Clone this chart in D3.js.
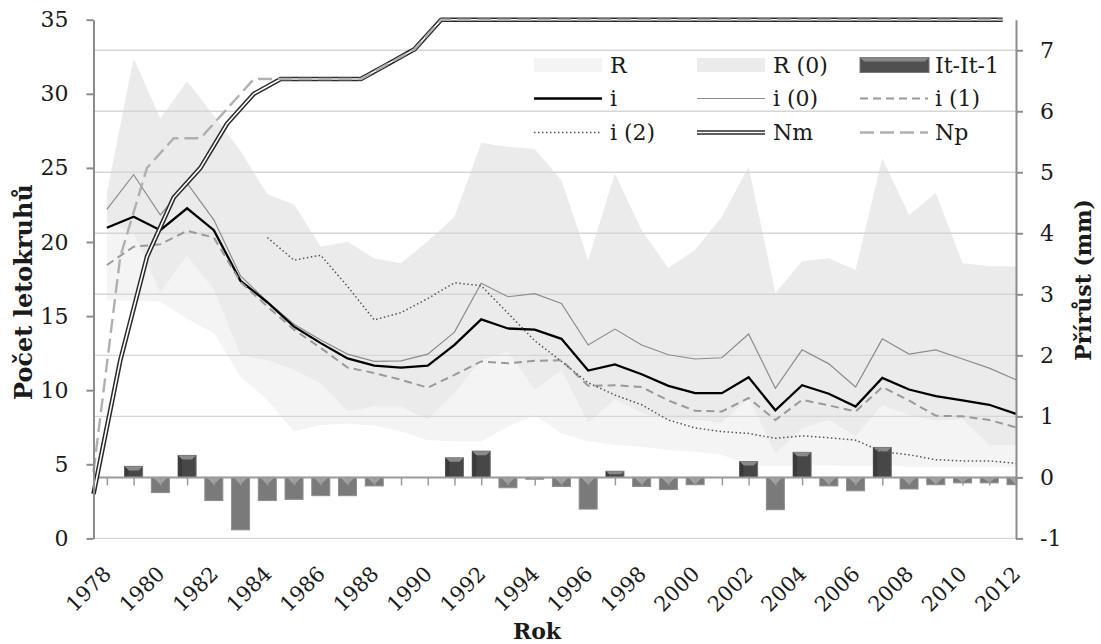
<!DOCTYPE html>
<html><head><meta charset="utf-8">
<script src="https://cdn.jsdelivr.net/npm/d3@7"></script>
<style>
body{margin:0;background:#fff}
svg{font-family:"DejaVu Serif",serif}
</style></head><body>
<svg id="c" width="1101" height="644"></svg>
<script>
// ---- data ----
const years=[1978,1979,1980,1981,1982,1983,1984,1985,1986,1987,1988,1989,1990,1991,1992,1993,1994,1995,1996,1997,1998,1999,2000,2001,2002,2003,2004,2005,2006,2007,2008,2009,2010,2011,2012];
const xTickLabels=["1978","1980","1982","1984","1986","1988","1990","1992","1994","1996","1998","2000","2002","2004","2006","2008","2010","2012"];
const leftTicks=[0,5,10,15,20,25,30,35];
const rightTicks=[-1,0,1,2,3,4,5,6,7];
const legendLabels=["R","R (0)","It-It-1","i","i (0)","i (1)","i (2)","Nm","Np"];

// R range (mm)
const rLow =[2.9,2.9,2.88,2.6,2.36,1.65,1.27,0.75,0.86,0.88,0.85,0.75,0.61,0.59,0.59,0.83,1.02,0.72,0.59,0.53,0.50,0.45,0.42,0.37,0.20,0.18,0.20,0.20,0.18,0.20,0.17,0.17,0.17,0.17,0.17];
const rHigh=[4.19,4.00,3.02,3.63,3.07,2.00,1.92,1.76,1.54,1.08,1.16,1.16,0.94,1.38,1.92,2.06,1.43,1.75,0.89,1.28,1.05,0.94,0.94,0.89,1.30,0.39,0.80,0.94,0.67,1.18,1.02,0.93,0.95,0.53,0.53];
// R (0) range (mm)
const r0Low =[4.19,4.00,3.02,3.63,3.07,2.00,1.92,1.76,1.54,1.08,1.16,1.16,0.94,1.38,1.92,2.06,1.43,1.75,0.89,1.28,1.05,0.94,0.94,0.89,1.30,0.39,0.80,0.94,0.67,1.18,1.02,0.93,0.95,0.53,0.53];
const r0High=[4.66,6.87,5.88,6.49,5.93,5.35,4.64,4.47,3.78,3.86,3.59,3.51,3.87,4.27,5.48,5.42,5.38,4.87,3.56,4.98,4.05,3.43,3.73,4.27,5.09,3.02,3.54,3.59,3.40,5.23,4.30,4.66,3.51,3.46,3.46];
// It - It-1 (mm)
const itDiff=[null,0.18,-0.25,0.36,-0.38,-0.86,-0.38,-0.36,-0.30,-0.30,-0.14,0,0,0.32,0.43,-0.17,-0.03,-0.15,-0.52,0.10,-0.15,-0.20,-0.12,0,0.26,-0.53,0.41,-0.14,-0.22,0.49,-0.19,-0.12,-0.09,-0.09,-0.12];
// increments (mm)
const iVals =[4.09,4.27,4.05,4.41,4.05,3.22,2.87,2.47,2.20,1.95,1.83,1.80,1.83,2.17,2.59,2.44,2.42,2.27,1.75,1.85,1.69,1.50,1.38,1.38,1.64,1.10,1.51,1.37,1.16,1.63,1.44,1.33,1.26,1.19,1.04];
const i0Vals=[4.39,4.96,4.30,4.82,4.22,3.30,2.88,2.51,2.25,2.02,1.90,1.91,2.02,2.38,3.18,2.96,3.01,2.85,2.17,2.43,2.17,2.01,1.94,1.96,2.35,1.46,2.09,1.86,1.48,2.27,2.02,2.09,1.94,1.79,1.60];
const i1Vals=[3.48,3.78,3.82,4.04,3.93,3.20,2.80,2.42,2.12,1.80,1.71,1.60,1.47,1.68,1.90,1.87,1.91,1.92,1.50,1.51,1.48,1.26,1.09,1.08,1.30,0.94,1.27,1.18,1.08,1.48,1.26,1.01,1.00,0.94,0.82];
const i2Vals=[null,null,null,null,null,null,3.93,3.56,3.64,3.13,2.58,2.70,2.93,3.19,3.14,2.69,2.24,1.90,1.55,1.35,1.19,0.94,0.81,0.75,0.72,0.64,0.68,0.65,0.61,0.42,0.37,0.29,0.27,0.27,0.23];
// counts (left axis)
const nmVals=[3,12,19,23,25,28,30,31,31,31,31,32,33,35,35,35,35,35,35,35,35,35,35,35,35,35,35,35,35,35,35,35,35,35,35];
const npVals=[4.5,19,25,27,27,29,31,31,31,31,31,32,33,35,35,35,35,35,35,35,35,35,35,35,35,35,35,35,35,35,35,35,35,35,35];

// ---- layout ----
const svg=d3.select("#c");
const L=93.5,R=1016,T=19.7,B=538.4;
const n=years.length;
const x=d3.scaleLinear().domain([0,n-0.5]).range([L,R]);
const xp=i=>x(i);        // primary (count) series
const xs=i=>x(i+0.5);    // secondary (mm) series
const yL=d3.scaleLinear().domain([0,35]).range([B,T]);
const yR=d3.scaleLinear().domain([-1,7.5]).range([B,T]);
const catScale=d3.scalePoint().domain(years).range([xs(0),xs(n-1)]);
const fmt=d=>(d<0?"-":"")+Math.abs(d);

svg.append("defs").append("clipPath").attr("id","plot")
  .append("rect").attr("x",L).attr("y",T-6).attr("width",R-L).attr("height",B-T+6);

// areas
const band=(lo,hi)=>d3.area().x((d,i)=>xs(i)).y0((d,i)=>yR(lo[i])).y1((d,i)=>yR(hi[i]));
svg.append("path").attr("d",band(rLow,rHigh)(years)).attr("fill","#f4f4f4");
svg.append("path").attr("d",band(r0Low,r0High)(years)).attr("fill","#ebebeb");

// gridlines (right axis)
svg.append("g").selectAll("line").data(rightTicks.filter(v=>v!==0)).join("line")
  .attr("x1",L).attr("x2",R).attr("y1",d=>yR(d)).attr("y2",d=>yR(d))
  .attr("stroke","#d6d6d6").attr("stroke-width",1.4);

// bars
const bw=18;
const bars=svg.append("g").attr("clip-path","url(#plot)");
itDiff.forEach((v,i)=>{
  if(v===null||v===0) return;
  const cx=xs(i), x0=cx-bw/2, x1=cx+bw/2;
  const yt=yR(Math.max(v,0)), yb=yR(Math.min(v,0)), h=yb-yt;
  if(v>0){
    bars.append("rect").attr("x",x0).attr("y",yt).attr("width",bw).attr("height",h)
      .attr("fill","#474747").attr("stroke","#6e6e6e").attr("stroke-width",1);
    const b=Math.min(4,h/2);
    bars.append("path").attr("d",`M${x0},${yt}L${x1},${yt}L${x1-b},${yt+b}L${x0+b},${yt+b}Z`).attr("fill","#8a8a8a");
    bars.append("path").attr("d",`M${x0},${yt}L${x0+b},${yt+b}L${x0+b},${yb}L${x0},${yb}Z`).attr("fill","#3a3a3a");
  } else {
    bars.append("rect").attr("x",x0).attr("y",yt).attr("width",bw).attr("height",h)
      .attr("fill","#7a7a7a").attr("stroke","#8e8e8e").attr("stroke-width",1);
    const b=Math.min(7,h);
    bars.append("path").attr("d",`M${x0+2},${yt}L${x1-2},${yt}L${cx},${yt+b}Z`).attr("fill","#a3a3a3");
  }
});

// category axis at 0 (secondary)
const zeroAxis=svg.append("g").attr("transform",`translate(0,${yR(0)})`)
  .call(d3.axisBottom(catScale).tickSize(8).tickSizeOuter(0).tickFormat(""));
zeroAxis.select(".domain").attr("d",`M${L},0H${R}`).attr("stroke","#9a9a9a").attr("stroke-width",2);
zeroAxis.selectAll(".tick line").attr("stroke","#9a9a9a").attr("stroke-width",1.5);

// year labels
const labelScale=d3.scalePoint().domain(xTickLabels).range([catScale(1978),catScale(2012)]);
const xLab=svg.append("g").attr("transform","translate(0,570)")
  .call(d3.axisBottom(labelScale).tickSize(0).tickPadding(0));
xLab.select(".domain").remove();
xLab.selectAll("text").attr("y",0).attr("x",0).attr("dy","0.35em")
  .attr("transform","rotate(-45)").attr("text-anchor","end")
  .style("font-size","21px").style("font-family","DejaVu Serif").attr("fill","#1a1a1a");

// lines
const lineR=arr=>d3.line().defined((d,i)=>arr[i]!==null).x((d,i)=>xs(i)).y((d,i)=>yR(arr[i]))(years);
const lineL=arr=>d3.line().x((d,i)=>xp(i)).y((d,i)=>yL(arr[i]))(years);
svg.append("path").attr("d",lineR(i0Vals)).attr("fill","none").attr("stroke","#8c8c8c").attr("stroke-width",1.2);
svg.append("path").attr("d",lineR(iVals)).attr("fill","none").attr("stroke","#000").attr("stroke-width",2.3);
svg.append("path").attr("d",lineR(i1Vals)).attr("fill","none").attr("stroke","#9a9a9a").attr("stroke-width",2).attr("stroke-dasharray","8,5");
svg.append("path").attr("d",lineR(i2Vals)).attr("fill","none").attr("stroke","#555").attr("stroke-width",1.5).attr("stroke-dasharray","1.5,2.5");
svg.append("path").attr("d",lineL(nmVals)).attr("fill","none").attr("stroke","#2a2a2a").attr("stroke-width",4.6).attr("stroke-linejoin","round");
svg.append("path").attr("d",lineL(nmVals)).attr("fill","none").attr("stroke","#fff").attr("stroke-width",1.6).attr("stroke-linejoin","round");
svg.append("path").attr("d",lineL(npVals)).attr("fill","none").attr("stroke","#b0b0b0").attr("stroke-width",2.4).attr("stroke-dasharray","14,6");

// left axis
const la=svg.append("g").attr("transform",`translate(${L},0)`)
  .call(d3.axisLeft(yL).tickValues(leftTicks).tickSize(7).tickSizeOuter(0).tickPadding(18).tickFormat(fmt));
la.select(".domain").attr("stroke","#8c8c8c").attr("stroke-width",2);
la.selectAll(".tick line").attr("stroke","#8c8c8c").attr("stroke-width",2);
la.selectAll("text").style("font-size","22px").style("font-family","DejaVu Serif").attr("fill","#1a1a1a");

// right axis
const ra=svg.append("g").attr("transform",`translate(${R},0)`)
  .call(d3.axisRight(yR).tickValues(rightTicks).tickSize(7).tickSizeOuter(0).tickPadding(17).tickFormat(fmt));
ra.select(".domain").attr("stroke","#8c8c8c").attr("stroke-width",2);
ra.selectAll(".tick line").attr("stroke","#8c8c8c").attr("stroke-width",2);
ra.selectAll("text").style("font-size","22px").style("font-family","DejaVu Serif").attr("fill","#1a1a1a");

// titles
svg.append("text").attr("transform","translate(32,292) rotate(-90)").attr("text-anchor","middle")
  .style("font-size","24px").style("font-weight","bold").attr("fill","#1a1a1a").text("Počet letokruhů");
svg.append("text").attr("transform","translate(1091,280) rotate(-90)").attr("text-anchor","middle")
  .style("font-size","22px").style("font-weight","bold").attr("fill","#1a1a1a").text("Přírůst (mm)");
svg.append("text").attr("x",537).attr("y",639).attr("text-anchor","middle")
  .style("font-size","22px").style("font-weight","bold").attr("fill","#1a1a1a").text("Rok");

// legend
const colX=[534,697,860], rowY=[65.5,98.5,132.5], sw=68;
const lg=svg.append("g");
legendLabels.forEach((lab,k)=>{
  const cx=colX[k%3], cy=rowY[Math.floor(k/3)];
  const g=lg.append("g");
  if(lab==="R") g.append("rect").attr("x",cx).attr("y",cy-7.5).attr("width",sw).attr("height",14).attr("fill","#f4f4f4");
  else if(lab==="R (0)") g.append("rect").attr("x",cx).attr("y",cy-7.5).attr("width",sw).attr("height",14).attr("fill","#ebebeb");
  else if(lab==="It-It-1"){
    g.append("rect").attr("x",cx).attr("y",cy-8).attr("width",sw+1).attr("height",15).attr("fill","#505050").attr("stroke","#777");
    g.append("path").attr("d",`M${cx},${cy-8}H${cx+sw+1}L${cx+sw-3},${cy-4}H${cx+4}Z`).attr("fill","#888");
  } else {
    const ln=(stroke,w,dash)=>g.append("line").attr("x1",cx).attr("x2",cx+sw).attr("y1",cy).attr("y2",cy)
      .attr("stroke",stroke).attr("stroke-width",w).attr("stroke-dasharray",dash||null);
    if(lab==="i") ln("#000",2.3);
    else if(lab==="i (0)") ln("#8c8c8c",1.2);
    else if(lab==="i (1)") ln("#9a9a9a",2,"8,5");
    else if(lab==="i (2)") ln("#555",1.5,"1.5,2.5");
    else if(lab==="Nm"){ ln("#2a2a2a",4.6); ln("#fff",1.6); }
    else if(lab==="Np") ln("#b0b0b0",2.4,"14,6");
  }
  g.append("text").attr("x",cx+sw+(k%3===2?7:8)).attr("y",cy).attr("dy","0.35em")
    .style("font-size","22px").attr("fill","#1a1a1a").text(lab);
});
</script>
</body></html>
